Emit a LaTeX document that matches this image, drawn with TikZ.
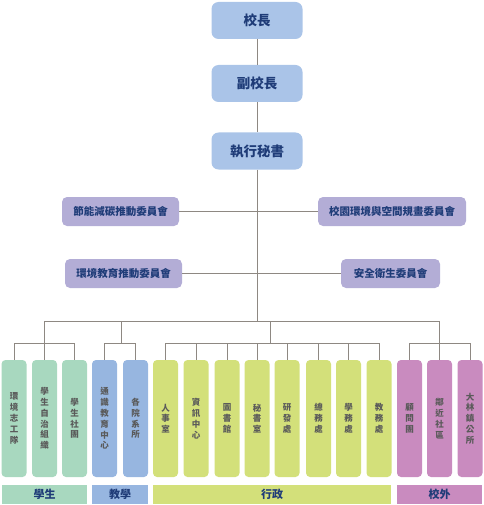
\documentclass[tikz,border=0pt]{standalone}
\usepackage{fontspec}
\setmainfont{Noto Sans CJK TC}
\usetikzlibrary{positioning}

\definecolor{bleuchef}{HTML}{AAC4E8}
\definecolor{violet}{HTML}{B3ADD6}
\definecolor{vert}{HTML}{A8D8BF}
\definecolor{bleu}{HTML}{97B6E0}
\definecolor{jaune}{HTML}{D3E07A}
\definecolor{rose}{HTML}{C98BBF}
\definecolor{marine}{HTML}{1F3C78}
\definecolor{gristexte}{HTML}{5A5A5A}
\definecolor{trait}{HTML}{8E8882}

\tikzset{
  chef/.style={fill=bleuchef,rounded corners=7pt,minimum width=91pt,minimum height=37pt,
    text=marine,font=\bfseries\fontsize{13.5}{15}\selectfont},
  comite/.style={fill=violet,rounded corners=5pt,minimum height=29pt,
    text=marine,font=\bfseries\fontsize{10.5}{12}\selectfont},
  feuille/.style={rounded corners=4pt,minimum width=25pt,minimum height=117pt,inner sep=0pt,
    align=center,text=gristexte,font=\bfseries\fontsize{8.5}{10.8}\selectfont,
    execute at begin node={\rule{0pt}{18pt}}},
  barre/.style={minimum height=19pt,inner sep=0pt,text=marine,font=\bfseries\fontsize{11}{12}\selectfont},
  lien/.style={draw=trait,line width=0.9pt}
}

\begin{document}
\begin{tikzpicture}[x=1pt,y=-1pt]
\useasboundingbox (0,0) rectangle (483,505);
% direction
\node[chef] (xz) at (257,20.5) {校長};
\node[chef] (fxz) at (257,83.5) {副校長};
\node[chef] (zx) at (257,151) {執行秘書};
\draw[lien] (xz) -- (fxz);
\draw[lien] (fxz) -- (zx);
% comites
\node[comite,minimum width=117pt] (jn) at (120.5,211.5) {節能減碳推動委員會};
\node[comite,minimum width=148pt] (xy) at (392,211.5) {校園環境與空間規畫委員會};
\node[comite,minimum width=117pt] (hj) at (123.5,273.5) {環境教育推動委員會};
\node[comite,minimum width=99pt] (aq) at (390.5,273.5) {安全衛生委員會};
\coordinate (tronc) at (257,321);
\draw[lien] (zx) -- (tronc);
\draw[lien] (jn) -- (xy);
\draw[lien] (hj) -- (aq);
% feuilles
\foreach \i/\x/\c/\t in {
  1/14/vert/{環\\境\\志\\工\\隊},
  2/44.5/vert/{學\\生\\自\\治\\組\\織},
  3/74.5/vert/{學\\生\\社\\團},
  4/104.5/bleu/{通\\識\\教\\育\\中\\心},
  5/135.5/bleu/{各\\院\\系\\所},
  6/165.5/jaune/{人\\事\\室},
  7/196/jaune/{資\\訊\\中\\心},
  8/227/jaune/{圖\\書\\館},
  9/257/jaune/{秘\\書\\室},
  10/287/jaune/{研\\發\\處},
  11/318.5/jaune/{總\\務\\處},
  12/348.5/jaune/{學\\務\\處},
  13/379/jaune/{教\\務\\處},
  14/409.5/rose/{顧\\問\\團},
  15/439.5/rose/{鄰\\近\\社\\區},
  16/470/rose/{大\\林\\鎮\\公\\所}}
  \node[feuille,fill=\c] (f\i) at (\x,418.5) {\t};
% arbre
\coordinate (ge) at (44.5,343);
\coordinate (gn) at (121,343);
\coordinate (ga) at (270,343);
\coordinate (gx) at (439.5,343);
\draw[lien] (ge |- tronc) -- (gx |- tronc);
\foreach \g in {ge,gn,ga,gx}
  \draw[lien] (\g |- tronc) -- (\g);
\draw[lien] (f1 |- ge) -- (f3 |- ge);
\draw[lien] (f4 |- gn) -- (f5 |- gn);
\draw[lien] (f6 |- ga) -- (f13 |- ga);
\draw[lien] (f14 |- gx) -- (f16 |- gx);
\foreach \i in {1,...,16}
  \draw[lien] (f\i.north |- ge) -- (f\i.north);
% categories
\node[barre,fill=vert,minimum width=85pt] (etud) at (44.5,494.5) {學生};
\node[barre,fill=bleu,minimum width=56pt] (ens) at (120,494.5) {教學};
\node[barre,fill=jaune,minimum width=238pt] (adm) at (272,494.5) {行政};
\node[barre,fill=rose,minimum width=85pt] (ext) at (439.5,494.5) {校外};
\end{tikzpicture}
\end{document}
